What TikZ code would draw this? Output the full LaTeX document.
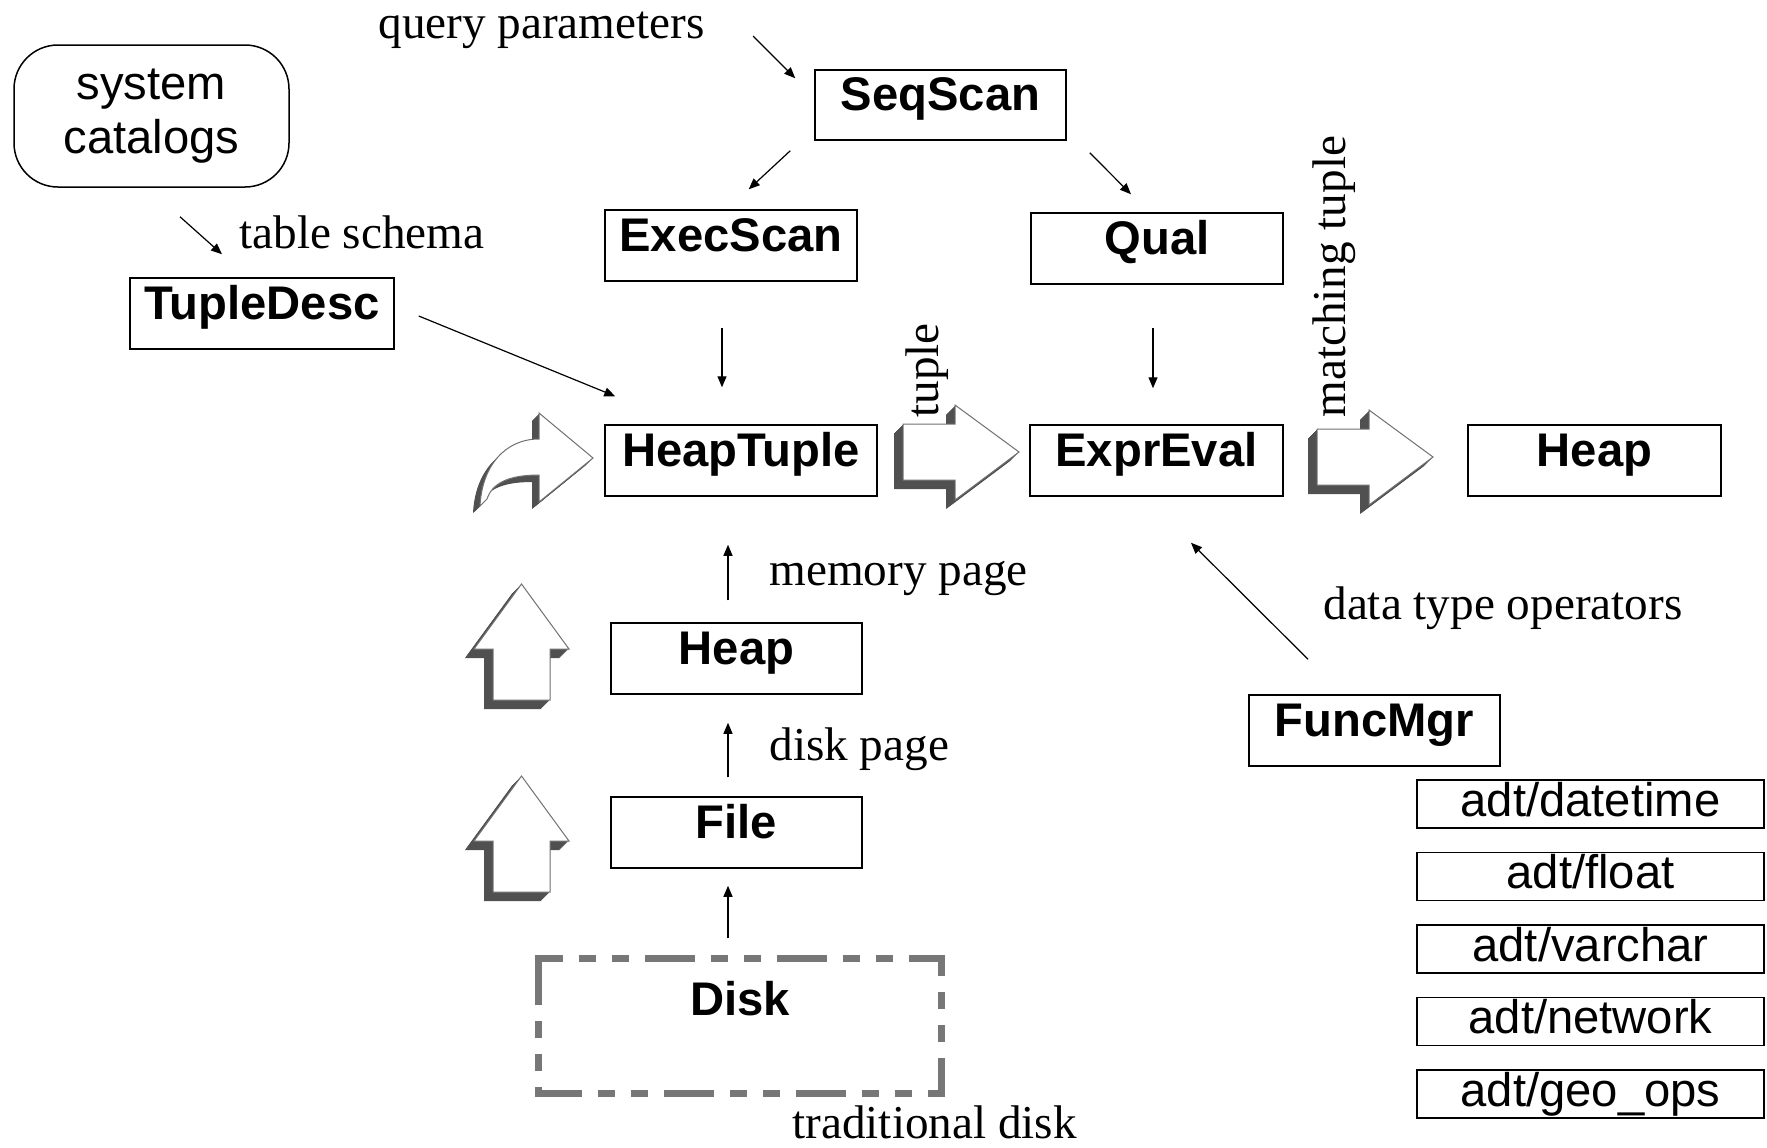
\documentclass[tikz,border=0pt]{standalone}
\usepackage{fontspec}
\setmainfont{Liberation Serif}
\newfontfamily\arialf{Liberation Sans}
\usetikzlibrary{arrows.meta}
\definecolor{shadowgray}{HTML}{505050}
\definecolor{edgegray}{HTML}{707070}
\definecolor{dashgray}{HTML}{777777}
\newcommand\fsz{\fontsize{23.6pt}{27pt}\selectfont}
\tikzset{
  rblock/.pic={
    \foreach \i in {1,...,9}{
      \fill[shadowgray, shift={(-\i,\i)}] (0,-28) -- (52,-28) -- (52,-47) -- (116,0) -- (52,48) -- (52,28) -- (0,28) -- cycle;}
    \filldraw[fill=white, draw=edgegray, line width=0.5pt] (0,-28) -- (52,-28) -- (52,-47) -- (116,0) -- (52,48) -- (52,28) -- (0,28) -- cycle;
  },
  ublock/.pic={
    \foreach \i in {1,...,9}{
      \fill[shadowgray, shift={(-\i,\i)}] (-28.5,0) -- (-28.5,-51) -- (-47.5,-51) -- (0,-116) -- (47.5,-51) -- (28.5,-51) -- (28.5,0) -- cycle;}
    \filldraw[fill=white, draw=edgegray, line width=0.5pt] (-28.5,0) -- (-28.5,-51) -- (-47.5,-51) -- (0,-116) -- (47.5,-51) -- (28.5,-51) -- (28.5,0) -- cycle;
  }
}
\begin{document}
\begin{tikzpicture}[x=0.5pt,y=-0.5pt,
  box/.style={draw, line width=0.75pt, inner sep=0pt, font=\arialf\bfseries\fsz,
    minimum width=126pt, minimum height=35.5pt, text height=17pt, text depth=11.5pt},
  adtbox/.style={draw, line width=0.75pt, inner sep=0pt, font=\arialf\fsz,
    minimum width=173.5pt, minimum height=24pt, text height=17pt, text depth=5pt},
  lbl/.style={font=\fsz, inner sep=0pt},
  arr/.style={line width=0.6pt, -{Triangle[length=5.5pt,width=4.5pt]}},
  diskdash/.style={draw=dashgray, line width=3.5pt,
    dash pattern=on 25pt off 8pt on 8.5pt off 8pt on 8.5pt off 8pt}
]
\useasboundingbox (0,0) rectangle (1767,1147);

% system catalogs
\node[draw, line width=0.75pt, rounded corners=22pt, minimum width=137.5pt, minimum height=71pt,
  inner sep=0pt, align=center, font=\arialf\fsz] (sys) at (151.5,116) {system\\catalogs};

% boxes
\node[box, minimum width=125.5pt, minimum height=35pt] (seq) at (940.5,105) {SeqScan};
\node[box] (exec) at (731,245.5) {ExecScan};
\node[box] (qual) at (1157,248.5) {Qual};
\node[box, minimum width=132pt] (tdesc) at (262,313.5) {TupleDesc};
\node[box, minimum width=136pt] (htup) at (741,460.5) {HeapTuple};
\node[box, minimum width=126.5pt] (expr) at (1156.5,460.5) {ExprEval};
\node[box, minimum width=126.5pt] (heapR) at (1594.5,460.5) {Heap};
\node[box, minimum width=125.5pt] (heapM) at (736.5,658.5) {Heap};
\node[box, minimum width=125.5pt] (file) at (736.5,832.5) {File};
\node[box, minimum width=125.5pt] (func) at (1374.5,730.5) {FuncMgr};
\node[box, draw=none, minimum width=201pt, minimum height=67pt, text height=17pt, text depth=28pt] (disk) at (740,1026) {Disk};
\draw[diskdash] ([yshift=-12.5pt]disk.north west) -- (disk.north west) -- (disk.north east)
  -- (disk.south east) -- (disk.south west) -- cycle;

% adt boxes
\node[adtbox] (a1) at (1590.5,804) {adt/datetime};
\node[adtbox] (a2) at (1590.5,876.5) {adt/float};
\node[adtbox] (a3) at (1590.5,949) {adt/varchar};
\node[adtbox] (a4) at (1590.5,1021.5) {adt/network};
\node[adtbox] (a5) at (1590.5,1094) {adt/geo\_ops};

% labels
\node[lbl, anchor=base west] (qp) at (378,38) {query parameters};
\node[lbl, anchor=base west] (ts) at (239,248) {table schema};
\node[lbl, anchor=base west] (mp) at (769,585) {memory page};
\node[lbl, anchor=base west] (dp) at (769,760) {disk page};
\node[lbl, anchor=base west] (dto) at (1323,619) {data type operators};
\node[lbl, anchor=base west] (td) at (792,1138) {traditional disk};
\node[lbl, anchor=base west, rotate=90] (tl) at (938,418) {tuple};
\node[lbl, anchor=base west, rotate=90] (mt) at (1345,418) {matching tuple};

% arrows
\draw[arr] ([shift={(48,-2)}]qp.base east) -- ([shift={(-19,9)}]seq.north west);
\draw[arr] ([shift={(-24,10)}]seq.south west) -- ([shift={(-109,-20)}]exec.north east);
\draw[arr] ([shift={(23,12)}]seq.south east) -- ([shift={(-26,-18)}]qual.north);
\draw[arr] ([shift={(28.5,29)}]sys.south) -- ([shift={(-40,-23)}]tdesc.north);
\draw[arr] ([shift={(24,2.5)}]tdesc.east) -- ([shift={(11,-28)}]htup.north west);
\draw[arr] ([shift={(-9,46)}]exec.south) -- ([shift={(-19,-37)}]htup.north);
\draw[arr] ([shift={(-4,43)}]qual.south) -- ([shift={(-3.5,-36)}]expr.north);
\draw[arr] ([shift={(-8.5,-22)}]heapM.north) -- ([shift={(-13,48)}]htup.south);
\draw[arr] ([shift={(-8.5,-19)}]file.north) -- ([shift={(-8.5,28)}]heapM.south);
\draw[arr] ([shift={(-12,-20)}]disk.north) -- ([shift={(-8.5,17)}]file.south);
\draw[arr] ([shift={(-66.5,-35)}]func.north) -- ([shift={(34.5,46)}]expr.south);

% block arrows
\pic at (903,452) {rblock};
\pic at (1317,457) {rblock};
\pic at (521.5,700) {ublock};
\pic at (521.5,892) {ublock};

% curved block arrow
\foreach \i in {1,...,7}{
  \fill[shadowgray, shift={(-\i,\i)}] (539,439) -- (539,413) -- (593,458) -- (539,502) -- (539,475)
    .. controls (507,475) and (492,484) .. (487,499) -- (480,506)
    .. controls (482,466) and (505,439) .. (539,439) -- cycle;}
\filldraw[fill=white, draw=edgegray, line width=0.5pt] (539,439) -- (539,413) -- (593,458) -- (539,502) -- (539,475)
    .. controls (507,475) and (492,484) .. (487,499) -- (480,506)
    .. controls (482,466) and (505,439) .. (539,439) -- cycle;
\end{tikzpicture}
\end{document}
